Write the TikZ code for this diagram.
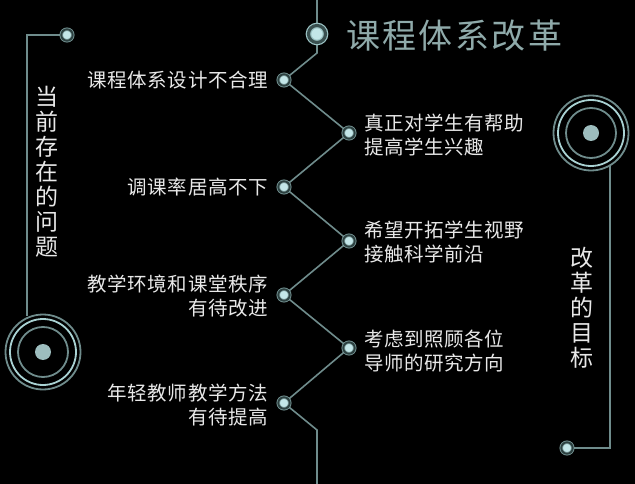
\documentclass[tikz,border=0pt]{standalone}
\usepackage{fontspec}
\newfontfamily\cjk{Noto Sans CJK SC}
\newfontfamily\cjklab[LetterSpace=3]{Noto Sans CJK SC}
\newfontfamily\cjktitle[LetterSpace=7]{Noto Sans CJK SC}
\definecolor{linec}{HTML}{6F8C8C}
\definecolor{ringl}{HTML}{A9D2D3}
\definecolor{dotc}{HTML}{C3E6E8}
\definecolor{darkr}{HTML}{2C4040}
\definecolor{txt}{HTML}{E8E8E8}
\definecolor{titlec}{HTML}{8FAAAA}
\definecolor{bigdot}{HTML}{9DBDBE}
\pgfdeclarelayer{bg}
\pgfdeclarelayer{lines}
\pgfsetlayers{bg,lines,main}
\tikzset{
  conn/.style={draw=linec, line width=1.6pt},
  smalldot/.style={circle, inner sep=0pt, minimum size=11.5pt, fill=dotc,
    draw=linec!70!ringl, line width=0.8pt, double=darkr, double distance=1.9pt},
  topdot/.style={circle, inner sep=0pt, minimum size=17pt, fill=dotc,
    draw=ringl!80!linec, line width=1.2pt, double=darkr!80!linec, double distance=3.2pt},
  centerdot/.style={circle, inner sep=0pt, minimum size=16pt, fill=bigdot},
  ringo/.style={draw=linec, line width=1.8pt},
  ringm/.style={draw=ringl, line width=1.8pt},
  ringi/.style={draw=linec, line width=1.8pt},
  lefttxt/.style={anchor=east, align=right, text=txt, inner sep=0pt,
    font=\cjklab\fontsize{19.5}{24}\selectfont},
  righttxt/.style={anchor=west, align=left, text=txt, inner sep=0pt,
    font=\cjklab\fontsize{19.5}{24}\selectfont},
  verttxt/.style={align=center, text=txt, inner sep=0pt,
    font=\cjk\fontsize{23}{25}\selectfont},
}
\begin{document}
\begin{tikzpicture}[x=1pt,y=-1pt]
\begin{pgfonlayer}{bg}
\fill[black] (0,0) rectangle (635,484);
\end{pgfonlayer}
\useasboundingbox (0,0) rectangle (635,484);

% central zigzag nodes
\coordinate (top) at (317,0);
\node[topdot] (t0) at (317,34) {};
\coordinate (k0) at (317,53);
\node[smalldot] (l1) at (284,80) {};
\node[smalldot] (r1) at (349,133) {};
\node[smalldot] (l2) at (284,187) {};
\node[smalldot] (r2) at (349,241) {};
\node[smalldot] (l3) at (284,295) {};
\node[smalldot] (r3) at (349,348) {};
\node[smalldot] (l4) at (284,403) {};
\coordinate (k1) at (317,430);
\coordinate (bot) at (317,484);

% left target
\node[centerdot] (tl) at (43,352) {};
\draw[ringo] (tl.center) circle (37.5);
\draw[ringm] (tl.center) circle (33);
\draw[ringi] (tl.center) circle (25);
\node[smalldot] (nl) at (67,35) {};
\coordinate (lc) at (27,35);
\coordinate (lb) at (27,316);

% right target
\node[centerdot] (tr) at (591,133) {};
\draw[ringo] (tr.center) circle (37.5);
\draw[ringm] (tr.center) circle (33);
\draw[ringi] (tr.center) circle (25);
\coordinate (rb) at (610,165);
\coordinate (rc) at (610,448);
\node[smalldot] (nr) at (567,448) {};

\begin{pgfonlayer}{lines}
\draw[conn] (top) -- (t0.center) -- (k0) -- (l1.center) -- (r1.center) -- (l2.center)
  -- (r2.center) -- (l3.center) -- (r3.center) -- (l4.center) -- (k1) -- (bot);
\draw[conn] (nl.center) -- (lc) -- (lb);
\draw[conn] (rb) -- (rc) -- (nr.center);
\end{pgfonlayer}

% title
\node[anchor=west, inner sep=0pt, text=titlec, font=\cjktitle\fontsize{34}{36}\selectfont] (title) at (346,36) {课程体系改革};

% left labels
\node[lefttxt] (a1) at (268,80) {课程体系设计不合理};
\node[lefttxt] (a2) at (268,187) {调课率居高不下};
\node[lefttxt] (a3) at (268,296) {教学环境和课堂秩序\\有待改进};
\node[lefttxt] (a4) at (268,405) {年轻教师教学方法\\有待提高};

% right labels
\node[righttxt] (b1) at (364,135) {真正对学生有帮助\\提高学生兴趣};
\node[righttxt] (b2) at (364,242) {希望开拓学生视野\\接触科学前沿};
\node[righttxt] (b3) at (364,351) {考虑到照顾各位\\导师的研究方向};

% vertical labels
\node[verttxt] (v1) at (47,172) {当\\前\\存\\在\\的\\问\\题};
\node[verttxt] (v2) at (582,308) {改\\革\\的\\目\\标};
\end{tikzpicture}
\end{document}
